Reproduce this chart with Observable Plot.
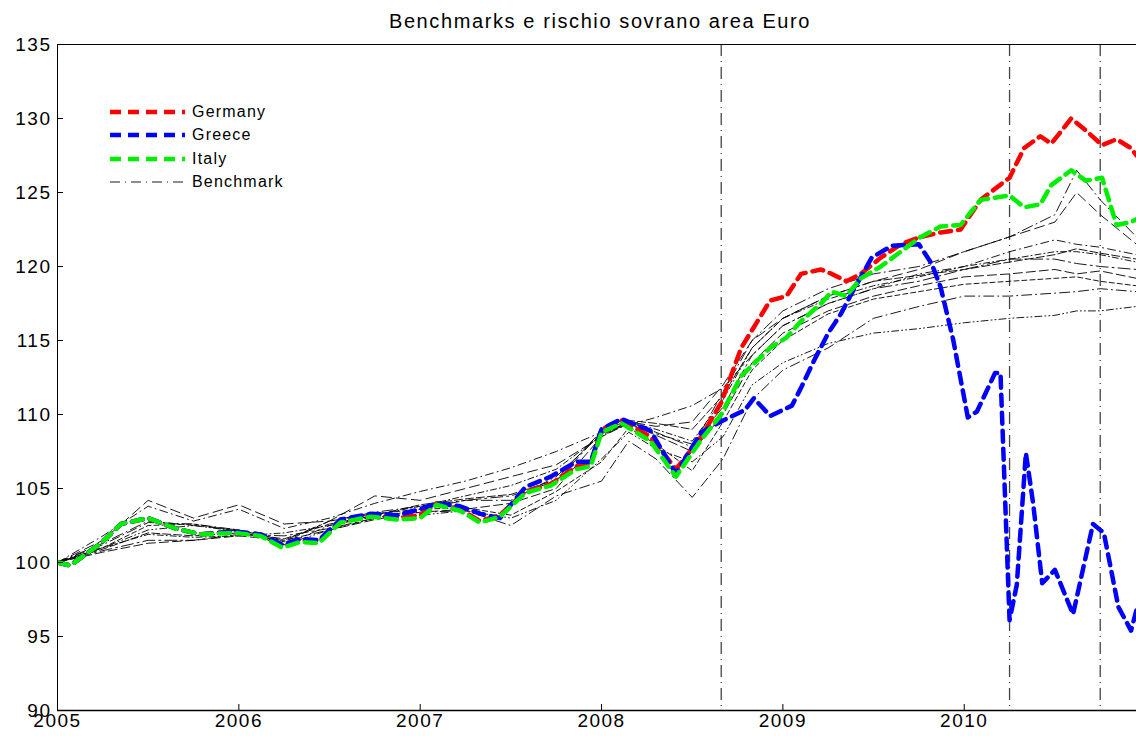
<!DOCTYPE html>
<html><head><meta charset="utf-8">
<script src="https://cdn.jsdelivr.net/npm/d3@7"></script>
<script src="https://cdn.jsdelivr.net/npm/@observablehq/plot@0.6"></script>
<style>
body{margin:0;background:#fff;font-family:"Liberation Sans",Arial,sans-serif;}
#wrap{position:relative;width:1136px;height:736px;}
#title{position:absolute;left:0;width:1200px;top:10px;text-align:center;font-size:20px;letter-spacing:1.6px;}
#legend{position:absolute;left:110px;top:100px;font-size:16px;letter-spacing:1.2px;}
#legend div{height:23.5px;display:flex;align-items:center;}
#legend svg{margin-right:7px;}
svg text{letter-spacing:1.5px;}
</style></head><body>
<div id="wrap"><div id="title">Benchmarks e rischio sovrano area Euro</div><div id="legend"></div></div>
<script>
const deT=[2005.0,2005.07,2005.24,2005.35,2005.5,2005.65,2005.79,2005.98,2006.12,2006.24,2006.34,2006.44,2006.56,2006.73,2006.87,2007.0,2007.09,2007.22,2007.33,2007.44,2007.58,2007.72,2007.86,2007.94,2008.0,2008.11,2008.27,2008.41,2008.55,2008.66,2008.77,2008.93,2009.02,2009.1,2009.21,2009.27,2009.35,2009.43,2009.54,2009.65,2009.76,2009.87,2009.98,2010.09,2010.25,2010.33,2010.42,2010.48,2010.59,2010.67,2010.76,2010.84,2010.92,2010.95];
const germany=[100,99.8,101.3,102.6,103.0,102.3,101.9,102.1,101.9,101.1,101.5,101.4,102.8,103.2,103.0,103.2,104.0,103.6,102.8,103.2,104.8,105.3,106.5,106.7,109.0,109.6,108.5,106.3,108.5,110.8,114.5,117.7,118.0,119.5,119.8,119.5,119.0,119.5,120.6,121.5,122.0,122.3,122.5,124.5,126.0,128.0,128.8,128.3,130.0,129.2,128.2,128.6,128.0,127.5];
const italy=[100,99.8,101.3,102.6,103.0,102.3,101.9,102.0,101.8,101.0,101.4,101.3,102.7,103.1,102.9,103.0,103.9,103.5,102.7,103.1,104.7,105.2,106.3,106.5,108.8,109.4,108.2,105.8,108.3,110.0,112.6,114.5,115.2,116.3,117.5,118.3,118.0,119.2,120.0,121.0,122.0,122.7,122.8,124.5,124.8,124.0,124.2,125.5,126.5,125.8,126.0,122.8,123.0,123.2];
const grT=[2005.0,2005.07,2005.24,2005.35,2005.5,2005.65,2005.79,2005.98,2006.12,2006.24,2006.34,2006.44,2006.56,2006.73,2006.87,2007.0,2007.09,2007.22,2007.33,2007.44,2007.58,2007.72,2007.86,2007.94,2008.0,2008.11,2008.27,2008.41,2008.55,2008.67,2008.79,2008.84,2008.93,2009.05,2009.1,2009.17,2009.25,2009.32,2009.38,2009.49,2009.6,2009.75,2009.82,2009.87,2009.94,2010.02,2010.07,2010.17,2010.2,2010.25,2010.29,2010.34,2010.38,2010.43,2010.5,2010.6,2010.71,2010.77,2010.85,2010.92,2010.95];
const greece=[100,99.8,101.3,102.6,103.0,102.3,101.9,102.1,101.9,101.2,101.6,101.5,102.9,103.3,103.2,103.6,104.0,103.8,103.3,103.0,105.1,105.8,106.8,106.8,109.0,109.7,108.9,106.0,108.8,109.6,110.3,111.1,109.9,110.6,111.8,113.6,115.5,116.8,118.2,120.6,121.4,121.5,120.2,118.6,115.0,109.8,110.2,112.8,112.8,96.1,98.5,107.4,104.0,98.6,99.5,96.5,102.6,102.0,97.0,95.4,96.8];
const bT=[2005.0,2005.25,2005.5,2005.75,2006.0,2006.25,2006.5,2006.75,2007.0,2007.25,2007.5,2007.75,2008.0,2008.15,2008.3,2008.5,2008.67,2008.83,2009.0,2009.25,2009.5,2009.75,2010.0,2010.25,2010.5,2010.62,2010.75,2010.95];
const b1=[100,101.8,103.8,102.8,103.6,102.3,103.0,104.0,104.8,105.5,106.4,107.5,108.8,109.3,109.8,110.6,111.8,114,116,117.5,118.5,119.5,120,121,121.8,121.5,121.3,120.8];
const b2=[100,101.5,104.2,103,103.9,102.6,102.8,104.5,104.2,105,105.8,106.6,108.5,109.5,109.2,109.5,112,115,116.5,118,119,119.8,121,122,123,125,123.5,121.5];
const b3=[100,101,101.9,101.7,101.8,102,102.5,103.2,103.8,104.5,105.2,106.3,108.6,109.5,109,108.2,111,114.5,116.5,117.8,118.7,119.3,120,120.5,121,121,120.8,120.3];
const b4=[100,100.8,101.5,101.5,101.9,101.8,102.3,103,103.6,104.2,104.5,105.5,108.8,109.3,108.7,108,110.5,114,116,117.5,118.5,119,119.8,120.5,120.5,120.2,120,119.8];
const b5=[100,100.7,101.3,101.5,101.8,101.5,102.2,102.9,103.4,103.6,104,105,108.5,109.4,108.6,107.5,110,113.5,115.5,117,118,118.7,119.3,119.5,119.8,119.5,119.7,119.2];
const b6=[100,101,102.2,102.5,102.1,101.2,102.2,103,103.2,103.5,103,104.2,107,108.8,107.7,106.8,108.5,112,113.5,114.8,115.5,115.8,116.2,116.5,116.7,117,117,117.3];
const b7=[100,101.2,102.7,102.6,102.2,101.2,102.5,103.1,103.4,103.5,102.5,104.5,105.5,108.2,107,104.4,107,111,113,114.5,116.5,117.3,118,118,118.2,118.3,118.5,118.3];
const b8=[100,101,102.5,102.6,102.1,101.4,102.8,103.3,103.6,103.7,103.2,104.8,106.8,109.1,108,106.2,109.5,113,115,116.8,117.8,118.3,118.8,119,119.2,119.3,119,118.7];
const b9=[100,101.3,102.8,102.5,102.2,101.5,102.8,103.4,103.8,104.2,104.2,105.8,108.7,109.5,108.8,107.8,111.5,115,117,118.5,119.5,120,121,122,123.5,126.5,124.5,122];
const b10=[100,100.9,102,101.8,102,101.6,102.6,103.2,103.9,104.3,104.6,105.6,108.9,109.6,109.4,109,111.3,114.5,116.5,118,119,119.4,119.8,120.3,120.8,121.2,120.9,120.5];
const benchmarks=[b1,b2,b3,b4,b5,b6,b7,b8,b9,b10];
const dashes=["8,4,1,4","10,5","6,3,1,3","12,4,2,4","9,4","7,3,1,3,1,3","10,4,1,4","5,3","11,4,1,4","8,3"];
const events=[2008.66,2010.25,2010.75];
const yTicks=[90,95,100,105,110,115,120,125,130,135];
const xTicks=[2005,2006,2007,2008,2009,2010];

const toRows=(T,V)=>T.map((t,i)=>({t,v:V[i]}));
const marks=[];
marks.push(Plot.ruleX(events,{stroke:"#444",strokeWidth:1.3,strokeDasharray:"12,5,1,5"}));
benchmarks.forEach((b,i)=>marks.push(Plot.line(toRows(bT,b),{x:"t",y:"v",stroke:"#000",strokeWidth:0.9,strokeDasharray:dashes[i],clip:true})));
marks.push(Plot.line(toRows(deT,germany),{x:"t",y:"v",stroke:"#ff0000",strokeWidth:4.5,strokeDasharray:"11,7",clip:true}));
marks.push(Plot.line(toRows(grT,greece),{x:"t",y:"v",stroke:"#0000ff",strokeWidth:4.5,strokeDasharray:"11,7",clip:true}));
marks.push(Plot.line(toRows(deT,italy),{x:"t",y:"v",stroke:"#00ee00",strokeWidth:4.5,strokeDasharray:"11,7",clip:true}));
marks.push(Plot.ruleY([135],{stroke:"#000"}));
marks.push(Plot.ruleY([90],{stroke:"#000",strokeWidth:1.5}));
marks.push(Plot.ruleX([2005],{stroke:"#000"}));
marks.push(Plot.axisY(yTicks,{tickSize:-6,tickPadding:12,fontSize:19,anchor:"left",label:null}));
marks.push(Plot.axisX(xTicks,{tickSize:-6,tickPadding:9,fontSize:19,anchor:"bottom",label:null,tickFormat:d=>String(d)}));

const chart=Plot.plot({width:1136,height:736,marginLeft:57,marginRight:0,marginTop:44,marginBottom:26,
 style:{fontFamily:"Liberation Sans, Arial, sans-serif",color:"#000",background:"#fff"},
 x:{domain:[2005,2010.95]},y:{domain:[90,135]},marks});
const wrap=document.getElementById("wrap");
wrap.insertBefore(chart,wrap.firstChild);
chart.style.position="absolute";chart.style.left="0";chart.style.top="0";

const leg=[["Germany","#ff0000",4.5,"11,7"],["Greece","#0000ff",4.5,"11,7"],["Italy","#00ee00",4.5,"11,7"],["Benchmark","#000",0.9,"10,5,1,5"]];
const L=document.getElementById("legend");
leg.forEach(([n,c,w,d])=>{const div=document.createElement("div");
 div.innerHTML=`<svg width="75" height="8"><line x1="0" x2="75" y1="4" y2="4" stroke="${c}" stroke-width="${w}" stroke-dasharray="${d}"/></svg><span>${n}</span>`;L.appendChild(div);});
</script></body></html>
